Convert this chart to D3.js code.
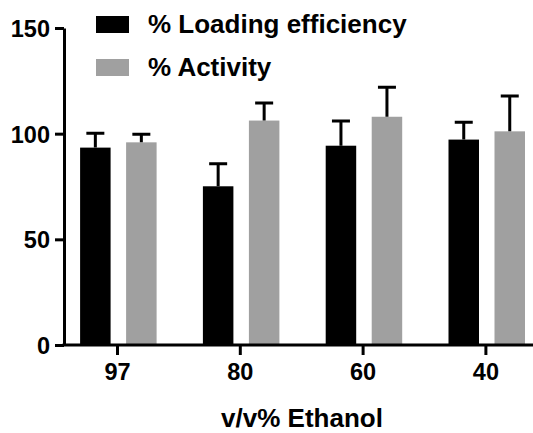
<!DOCTYPE html>
<html>
<head>
<meta charset="utf-8">
<script src="https://cdn.jsdelivr.net/npm/d3@7"></script>
<style>
  body { margin: 0; background: #fff; }
  svg { display: block; font-family: Arial, 'Liberation Sans', sans-serif; font-weight: bold; }
</style>
</head>
<body>
<svg width="533" height="433"></svg>
<script>
'use strict'

const categories = ['97', '80', '60', '40'];
const series = ['% Loading efficiency', '% Activity'];
const loading = [93.4, 75.1, 94.3, 97.2];
const loadingErr = [6.8, 10.7, 11.7, 8.2];
const activity = [95.9, 106.2, 108, 101.1];
const activityErr = [3.8, 8.3, 14, 16.7];
const yTicks = [0, 50, 100, 150];
const colors = ['#000000', '#a0a0a0'];

const svg = d3.select('svg');
const width = 533;

const y = d3.scaleLinear().domain([0, 150]).range([345, 28]);
const x0 = d3.scaleBand().domain(categories).range([56.1, 547.3]).padding(0);
const x1 = d3.scaleBand().domain(series).range([24, 100.5]).paddingInner(0.337);
const color = d3.scaleOrdinal().domain(series).range(colors);

const rows = categories.map((c, i) => ({
  cat: c,
  vals: [
    { s: series[0], v: loading[i], e: loadingErr[i] },
    { s: series[1], v: activity[i], e: activityErr[i] }
  ]
}));

// bars
const groups = svg.selectAll('g.grp')
  .data(rows)
  .join('g')
  .attr('class', 'grp')
  .attr('transform', d => `translate(${x0(d.cat)},0)`);

groups.selectAll('rect')
  .data(d => d.vals)
  .join('rect')
  .attr('x', d => x1(d.s))
  .attr('width', x1.bandwidth())
  .attr('y', d => y(d.v))
  .attr('height', d => y(0) - y(d.v))
  .attr('fill', d => color(d.s));

// error bars (upper only)
const capW = 18;
groups.selectAll('path.err')
  .data(d => d.vals)
  .join('path')
  .attr('class', 'err')
  .attr('fill', 'none')
  .attr('stroke', '#000')
  .attr('stroke-width', 3)
  .attr('d', d => {
    const cx = x1(d.s) + x1.bandwidth() / 2;
    const top = y(d.v + d.e);
    return `M${cx},${y(d.v)}V${top}M${cx - capW / 2},${top}H${cx + capW / 2}`;
  });

// y axis
const yAxis = svg.append('g')
  .attr('transform', 'translate(64,0)')
  .call(d3.axisLeft(y).tickValues(yTicks).tickSize(9).tickSizeOuter(0).tickPadding(5));
yAxis.select('.domain').attr('stroke-width', 3);
yAxis.selectAll('.tick line').attr('stroke-width', 3);
yAxis.selectAll('.tick text').attr('font-size', 23.5).attr('fill', '#000').attr('dy', '0.36em');

// x axis
const xAxis = svg.append('g')
  .attr('transform', `translate(0,${y(0)})`)
  .call(d3.axisBottom(x0).tickSize(10).tickPadding(8));
xAxis.select('.domain').remove();
xAxis.append('line')
  .attr('x1', 62.5).attr('x2', width)
  .attr('stroke', '#000').attr('stroke-width', 3);
xAxis.selectAll('.tick line').attr('stroke-width', 3);
xAxis.selectAll('.tick text').attr('font-size', 23.5).attr('fill', '#000');

svg.append('text')
  .attr('x', 302)
  .attr('y', 427)
  .attr('text-anchor', 'middle')
  .attr('font-size', 26)
  .text('v/v% Ethanol');

// legend
const legend = svg.selectAll('g.leg')
  .data(series)
  .join('g')
  .attr('class', 'leg')
  .attr('transform', (d, i) => `translate(96,${16 + i * 43})`);
legend.append('rect')
  .attr('width', 33).attr('height', 17)
  .attr('fill', d => color(d));
legend.append('text')
  .attr('x', 52).attr('y', 17)
  .attr('font-size', 26)
  .text(d => d);
</script>
</body>
</html>
